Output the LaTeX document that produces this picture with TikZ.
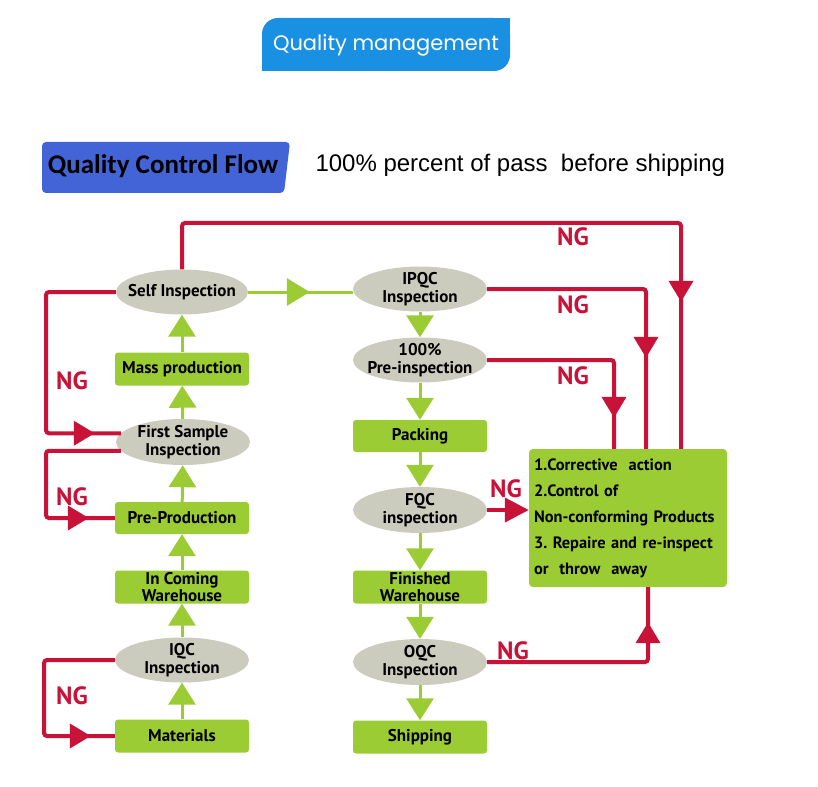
\documentclass[tikz,border=0pt]{standalone}
\usepackage{fontspec}
\setmainfont{PT Sans}
\newfontfamily\titlefont{Poppins}
\newfontfamily\headfont{Carlito}
\newfontfamily\arialfont{Liberation Sans}
\usetikzlibrary{arrows.meta,shapes.geometric,decorations.markings}

\definecolor{qmblue}{RGB}{26,144,226}
\definecolor{qcblue}{RGB}{66,100,214}
\definecolor{stepgreen}{RGB}{155,204,52}
\definecolor{checkgray}{RGB}{204,204,190}
\definecolor{ngred}{RGB}{200,18,56}

\tikzset{
  stepbox/.style={rectangle, rounded corners=3pt, fill=stepgreen, minimum width=134pt,
    minimum height=33pt, inner sep=0pt, align=center,
    font=\bfseries\fontsize{17}{17.5}\selectfont},
  checkoval/.style={ellipse, fill=checkgray, minimum width=134pt, minimum height=45pt,
    inner xsep=-12pt, inner ysep=-6pt, align=center, font=\bfseries\fontsize{17}{18}\selectfont},
  nglabel/.style={text=ngred, font=\bfseries\fontsize{25}{28}\selectfont},
  gline/.style={draw=stepgreen, line width=3pt, -{Triangle[width=27pt,length=22pt]}},
  gmid/.style={draw=stepgreen, line width=3pt, postaction={decorate, decoration={markings,
    mark=at position #1 with {\arrow{Triangle[width=27pt,length=23pt]}}}}},
  ngline/.style={draw=ngred, line width=4pt, rounded corners=3pt, postaction={decorate,
    decoration={markings, mark=at position #1 with {\arrow{Triangle[width=24pt,length=21pt]}}}}},
  ngend/.style={draw=ngred, line width=4pt, -{Triangle[width=24pt,length=24pt]}}
}

\begin{document}
\frenchspacing
\begin{tikzpicture}[x=1pt,y=-1pt]
  \useasboundingbox (0,0) rectangle (818,786);
  % title tab
  \fill[qmblue, rounded corners=16pt] (262,18) rectangle (510,71);
  \fill[qmblue] (400,18) rectangle (510,40);
  \fill[qmblue] (262,50) rectangle (400,71);
  \node[text=white, font=\titlefont\fontsize{21}{24}\selectfont] (qm) at (386,45) {Quality management};
  % heading
  \fill[qcblue, rounded corners=4pt] (42,142) -- (290,142) -- (284,193) -- (42,193) -- cycle;
  \node[font=\headfont\bfseries\fontsize{27}{30}\selectfont] (qc) at (163,166) {Quality Control Flow};
  \node[anchor=west, font=\arialfont\fontsize{24}{28}\selectfont] (pass) at (312,165)
    {100\% percent of pass\ \ before shipping};

  % left column
  \node[checkoval, minimum width=132pt] (self) at (182,292) {Self Inspection};
  \node[stepbox] (mass) at (182,369) {Mass production};
  \node[checkoval, minimum height=46pt] (fsi) at (183,442) {First Sample\\Inspection};
  \node[stepbox, minimum height=32pt] (pre) at (182,518) {Pre-Production};
  \node[stepbox] (icw) at (182,587) {In Coming\\Warehouse};
  \node[checkoval] (iqc) at (182,660) {IQC\\Inspection};
  \node[stepbox] (mat) at (182,736) {Materials};

  % middle column
  \node[checkoval] (ipqc) at (420,289) {IPQC\\Inspection};
  \node[checkoval] (full) at (420,360) {100\%\\Pre-inspection};
  \node[stepbox, minimum height=32pt] (pack) at (420,436) {Packing};
  \node[checkoval, minimum height=46pt] (fqc) at (420,510) {FQC\\inspection};
  \node[stepbox] (fw) at (420,587) {Finished\\Warehouse};
  \node[checkoval, minimum height=46pt] (oqc) at (420,662) {OQC\\Inspection};
  \node[stepbox] (ship) at (420,737) {Shipping};

  % corrective action box
  \node[rectangle, rounded corners=4pt, fill=stepgreen, minimum width=198pt, minimum height=138pt,
    inner sep=5pt, text width=188pt, align=left, font=\bfseries\fontsize{16.4}{26}\selectfont]
    (act) at (628,518)
    {1.Corrective\ \ action\\2.Control of\\Non-conforming Products\\3. Repaire and re-inspect\\or\ \ throw\ \ away};

  % green flow
  \draw[gline] (mat) -- (iqc);
  \draw[gline] (iqc) -- (icw);
  \draw[gline] (icw) -- (pre);
  \draw[gline] (pre) -- (fsi);
  \draw[gline] (fsi) -- (mass);
  \draw[gline] (mass) -- (self);
  \draw[gmid=-43pt] (self.east) -- (self.east -| ipqc.west);
  \draw[gline] (ipqc) -- (full);
  \draw[gline] (full) -- (pack);
  \draw[gline] (pack) -- (fqc);
  \draw[gline] (fqc) -- (fw);
  \draw[gline] (fw) -- (oqc);
  \draw[gline] (oqc) -- (ship);

  % NG returns, right side
  \coordinate (r1) at (681,223);
  \coordinate (r2) at (646,0);
  \coordinate (r3) at (614,0);
  \coordinate (r4) at (648,0);
  \draw[ngline=-147pt] (self.north) |- (r1) -- (r1 |- act.north);
  \draw[ngline=-91pt] (ipqc.east) -| (r2 |- act.north);
  \draw[ngline=-31pt] (full.east) -| (r3 |- act.north);
  \draw[ngend] (fqc.east) -- (fqc.east -| act.west);
  \draw[ngline=-35pt] (oqc.east) -| (r4 |- act.south);

  % NG returns, left side
  \coordinate (l1) at (46,0);
  \coordinate (l2) at (44,0);
  \draw[ngline=-26pt] (self.west) -| (l1 |- fsi.172) -- (fsi.172);
  \draw[ngline=-26pt] (fsi.188) -| (l1 |- pre.west) -- (pre.west);
  \draw[ngline=-24pt] (iqc.west) -| (l2 |- mat.west) -- (mat.west);

  % NG labels
  \node[nglabel] (ng1) at (573,237) {NG};
  \node[nglabel] (ng2) at (573,305) {NG};
  \node[nglabel] (ng3) at (573,376) {NG};
  \node[nglabel] (ng4) at (506,489) {NG};
  \node[nglabel] (ng5) at (513,651) {NG};
  \node[nglabel] (ng6) at (72,381) {NG};
  \node[nglabel] (ng7) at (72,497) {NG};
  \node[nglabel] (ng8) at (72,696) {NG};
\end{tikzpicture}
\end{document}
